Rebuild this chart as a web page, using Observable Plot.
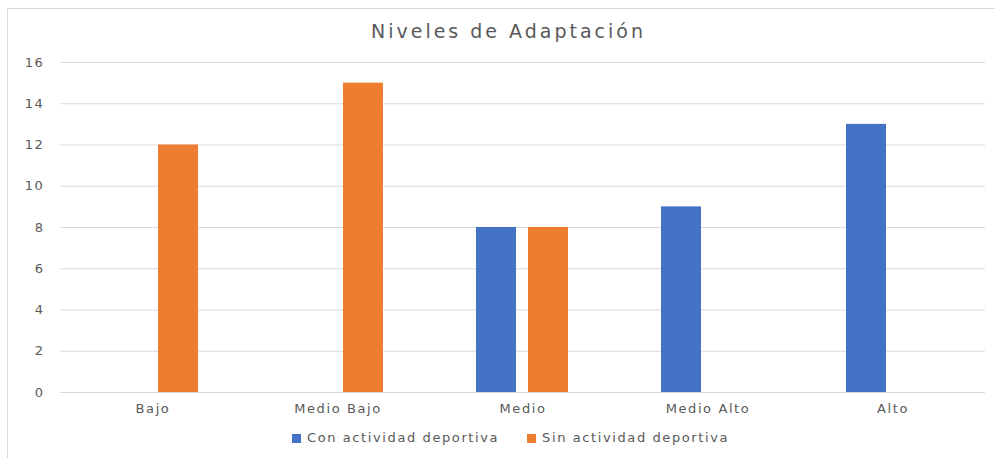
<!DOCTYPE html>
<html>
<head>
<meta charset="utf-8">
<script src="https://cdn.jsdelivr.net/npm/d3@7"></script>
<script src="https://cdn.jsdelivr.net/npm/@observablehq/plot@0.6"></script>
<style>
  html, body { margin: 0; padding: 0; background: #fff; overflow: hidden; }
  body { width: 995px; height: 458px; position: relative; font-family: "DejaVu Sans", sans-serif; color: #595959; }
  #frame { position: absolute; left: 7px; top: 8px; right: -10px; bottom: -10px; border: 1px solid #d9d9d9; }
  #title { position: absolute; left: 0; top: 19px; width: 995px; padding-left: 22px; box-sizing: border-box;
           text-align: center; font-size: 19px; letter-spacing: 3px; line-height: 24px; color: #595959; }
  #chart { position: absolute; left: 0; top: 50px; }
  #legend { position: absolute; left: 292px; top: 430px; display: flex; align-items: center;
            font-size: 13px; letter-spacing: 1.6px; line-height: 16px; color: #595959; }
  .item { display: flex; align-items: center; margin-right: 28px; }
  .swatch { width: 9px; height: 9px; margin-right: 6px; }
</style>
</head>
<body>
<div id="frame"></div>
<div id="title">Niveles de Adaptación</div>
<div id="chart"></div>
<div id="legend"></div>
<script>
// Adaptation levels by group
const categories = ["Bajo", "Medio Bajo", "Medio", "Medio Alto", "Alto"];
const series = ["Con actividad deportiva", "Sin actividad deportiva"];
const conActividad = [0, 0, 8, 9, 13];
const sinActividad = [12, 15, 8, 0, 0];
const yTicks = [0, 2, 4, 6, 8, 10, 12, 14, 16];
const palette = ["#4472C4", "#ED7D31"];

const rows = [];
categories.forEach((c, i) => {
  rows.push({category: c, series: series[0], value: conActividad[i]});
  rows.push({category: c, series: series[1], value: sinActividad[i]});
});

const chart = Plot.plot({
  width: 995,
  height: 370,
  marginTop: 12,
  marginBottom: 28,
  marginLeft: 58,
  marginRight: 9,
  style: {
    fontFamily: "DejaVu Sans, sans-serif",
    fontSize: "13px",
    letterSpacing: "1.6px",
    color: "#595959",
    background: "transparent",
    overflow: "visible"
  },
  fx: {domain: categories, padding: 0, label: null, axis: "bottom", tickSize: 0, tickPadding: 11},
  x: {domain: series, paddingInner: 0.226, paddingOuter: 0.862, axis: null},
  y: {domain: [0, 16], ticks: yTicks, label: null, tickSize: 0, tickPadding: 16},
  color: {domain: series, range: palette},
  marks: [
    Plot.gridY(yTicks, {stroke: "#d9d9d9", strokeOpacity: 1, strokeWidth: 1}),
    Plot.barY(rows, {fx: "category", x: "series", y: "value", fill: "series"})
  ]
});
document.getElementById("chart").appendChild(chart);

// Legend below the plot
const legend = d3.select("#legend");
series.forEach((s, i) => {
  const item = legend.append("div").attr("class", "item");
  item.append("div").attr("class", "swatch").style("background", palette[i]);
  item.append("span").text(s);
});
</script>
</body>
</html>
